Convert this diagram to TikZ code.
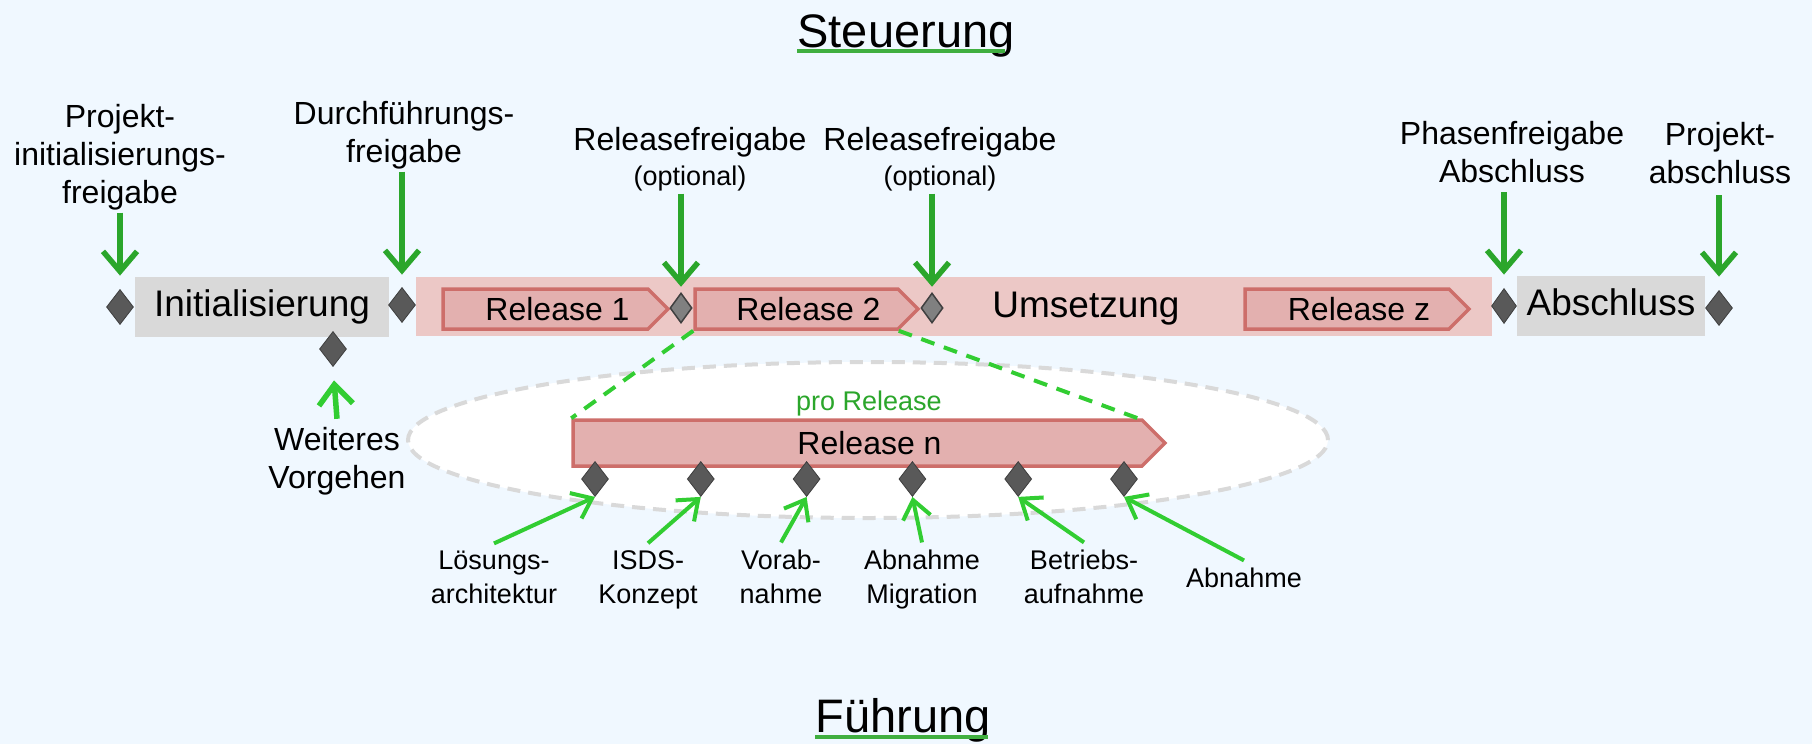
\documentclass[tikz,border=0pt]{standalone}
\usepackage{fontspec}
\setmainfont{Liberation Sans}
\usetikzlibrary{shapes.geometric,shapes.symbols,arrows.meta,calc}

\definecolor{bgblue}{RGB}{240,248,255}
\definecolor{phasegray}{RGB}{217,217,217}
\definecolor{bandrose}{RGB}{236,200,198}
\definecolor{relfill}{RGB}{227,176,175}
\definecolor{reldraw}{RGB}{205,110,106}
\definecolor{stonegray}{RGB}{89,89,89}
\definecolor{optgray}{RGB}{128,128,128}
\definecolor{gatecol}{RGB}{43,166,43}
\definecolor{limecol}{RGB}{50,205,50}
\definecolor{ringgray}{RGB}{217,217,217}

\pgfdeclareradialshading{glow}{\pgfpoint{0bp}{0bp}}{%
  color(0bp)=(white); color(30bp)=(white); color(50bp)=(bgblue)}

\begin{document}
\begin{tikzpicture}[x=1pt,y=-1pt,inner sep=0pt]
    \tikzstyle{headline}=[anchor=base,font=\fontsize{47}{56}\selectfont]
    \tikzstyle{headrule}=[draw=gatecol!90!white,line width=4pt]
    \tikzstyle{phase}=[rectangle,fill=phasegray,minimum height=60pt,text height=28pt,text depth=9pt,font=\fontsize{37}{44}\selectfont]
    \tikzstyle{band}=[rectangle,fill=bandrose,minimum height=59pt]
    \tikzstyle{release}=[signal,signal to=east,fill=relfill,draw=reldraw,line width=3.5pt,minimum height=40pt,text height=23pt,text depth=0pt,font=\fontsize{32}{38}\selectfont,execute at begin node=\hspace*{24pt}]
    \tikzstyle{milestone}=[diamond,fill=stonegray,draw=stonegray!70!black,line width=0.8pt,minimum width=27pt,minimum height=35pt]
    \tikzstyle{optstone}=[milestone,fill=optgray,draw=black!75,line width=1.5pt,minimum width=22pt,minimum height=30pt]
    \tikzstyle{ring}=[ellipse,draw=ringgray,line width=4pt,dash pattern=on 13pt off 8pt,shade,shading=glow]
    \tikzstyle{zoomline}=[draw=limecol,line width=4pt,dash pattern=on 14pt off 10pt]
    \tikzstyle{gatelabel}=[align=center,anchor=base,outer sep=3pt,font=\fontsize{32}{38}\selectfont]
    \tikzstyle{steplabel}=[align=center,anchor=base,outer sep=7pt,font=\fontsize{27}{34}\selectfont]
    \tikzstyle{gate}=[draw=gatecol,line width=5.5pt,-{Straight Barb[length=20pt,width=34pt]}]
    \tikzstyle{steparrow}=[draw=limecol,line width=4pt,-{Straight Barb[length=18pt,width=28pt]}]

    % Background
    \fill[bgblue] (0,0) rectangle (1812,744);

    % Headlines
    \node[headline] (steu) at (906,47) {Steuerung};
    \node[headline] (fuehr) at (903,732) {Führung};
    \draw[headrule] ([yshift=-4pt]steu.base west) -- ([xshift=-10pt,yshift=-4pt]steu.base east);
    \draw[headrule] ([yshift=-5pt]fuehr.base west) -- ([xshift=-3pt,yshift=-5pt]fuehr.base east);

    % Scope of one release
    \node[ring,minimum width=920pt,minimum height=156pt] (perRel) at (868,440) {};

    % Phases
    \node[band,minimum width=1076pt] (ums) at (954,306.5) {};
    \node[anchor=base,font=\fontsize{37}{44}\selectfont] (umsText) at (1086,317) {Umsetzung};
    \node[phase,minimum width=254pt] (init) at (262,307) {Initialisierung};
    \node[phase,minimum width=188pt] (absch) at (1611,306) {Abschluss};

    % Releases
    \node[release,minimum width=225pt] (rel1) at (545.5,309) {Release 1};
    \node[release,minimum width=223pt] (rel2) at (796.5,309) {Release 2};
    \node[release,minimum width=224pt] (relz) at (1347,309) {Release z};
    \node[release,minimum width=592pt,minimum height=46pt] (reln) at (857.5,443) {Release n};
    \node[anchor=base,text=gatecol,font=\fontsize{27}{32}\selectfont] (pro) at (869,410) {pro Release};

    % Zoom into one release
    \draw[zoomline] (rel2.south west) -- (reln.north west);
    \draw[zoomline] (rel2.south east) -- ($(reln.north east)+(-5,0)$);

    % Milestones
    \node[milestone] (ms-pi) at (120,307) {};
    \node[milestone] (ms-df) at (402,305) {};
    \node[milestone] (ms-wv) at (333,349) {};
    \node[optstone] (ms-r1) at (681,308) {};
    \node[optstone] (ms-r2) at (932,308) {};
    \node[milestone,minimum width=25pt] (ms-pf) at (1504,306) {};
    \node[milestone] (ms-pa) at (1719,308) {};

    % Milestones per release
    \foreach \i in {1,...,6}
        \node[milestone] (n-\i) at ({489.2+105.8*\i},479) {};

    % Gate labels
    \node[gatelabel] (g-pi) at (120,203) {Projekt-\\initialisierungs-\\freigabe};
    \node[gatelabel] (g-df) at (404,162) {Durchführungs-\\freigabe};
    \node[gatelabel] (g-r1) at (690,185) {Releasefreigabe\\[-3pt]{\fontsize{27}{32}\selectfont(optional)}};
    \node[gatelabel] (g-r2) at (940,185) {Releasefreigabe\\[-3pt]{\fontsize{27}{32}\selectfont(optional)}};
    \node[gatelabel] (g-pf) at (1512,182) {Phasenfreigabe\\Abschluss};
    \node[gatelabel] (g-pa) at (1720,183) {Projekt-\\abschluss};
    \node[gatelabel,outer sep=8pt] (g-wv) at (337,488) {Weiteres\\Vorgehen};

    % Step labels
    \node[steplabel] (s-1) at (494,603) {Lösungs-\\architektur};
    \node[steplabel] (s-2) at (648,603) {ISDS-\\Konzept};
    \node[steplabel] (s-3) at (781,603) {Vorab-\\nahme};
    \node[steplabel] (s-4) at (922,603) {Abnahme\\Migration};
    \node[steplabel] (s-5) at (1084,603) {Betriebs-\\aufnahme};
    \node[steplabel] (s-6) at (1244,587) {Abnahme};

    % Connect gates to milestones
    \draw[gate,shorten >=13.5pt] (g-pi.south -| ms-pi) -- (ms-pi.north);
    \draw[gate,shorten >=12.5pt] (g-df.south -| ms-df) -- (ms-df.north);
    \draw[gate,shorten >=5.5pt] (g-r1.south -| ms-r1) -- (ms-r1.north);
    \draw[gate,shorten >=5.5pt] (g-r2.south -| ms-r2) -- (ms-r2.north);
    \draw[gate,shorten >=13.5pt,shorten <=7pt] (g-pf.south -| ms-pf) -- (ms-pf.north);
    \draw[gate,shorten >=13.5pt,shorten <=9pt] (g-pa.south -| ms-pa) -- (ms-pa.north);
    \draw[steparrow,line width=5.5pt,-{Straight Barb[length=20pt,width=34pt]},shorten >=13.5pt] (g-wv.north) -- (ms-wv.south);

    % Connect steps to milestones
    \foreach \i in {1,...,6}
        \draw[steparrow] (s-\i.north) -- (n-\i.south);

\end{tikzpicture}
\end{document}
